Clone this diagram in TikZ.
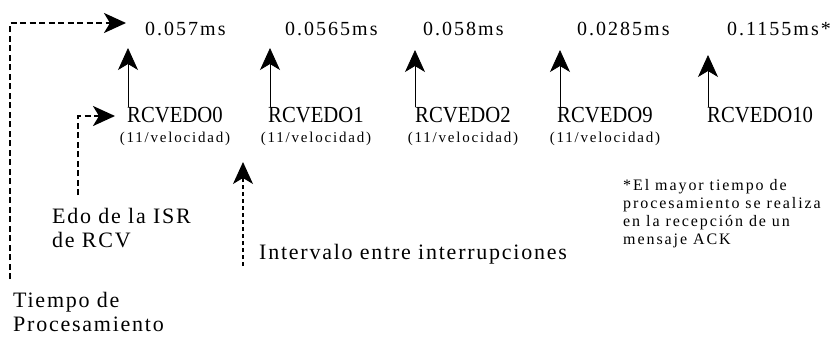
\documentclass[tikz,border=0pt]{standalone}
\usepackage{fontspec}
\setmainfont{Liberation Serif}
\newfontfamily\lsNum[LetterSpace=10]{Liberation Serif}
\newfontfamily\lsRcv[FakeStretch=0.9]{Liberation Serif}
\newfontfamily\lsVel[LetterSpace=12]{Liberation Serif}
\newfontfamily\lsLbl[LetterSpace=8]{Liberation Serif}
\newfontfamily\lsNote[LetterSpace=12]{Liberation Serif}
\usetikzlibrary{arrows.meta}
\begin{document}
\begin{tikzpicture}[x=1pt,y=1pt,
  num/.style={inner sep=0pt, anchor=base west, font=\lsNum\fontsize{20}{22}\selectfont},
  rcv/.style={inner sep=0pt, anchor=base west, font=\lsRcv\fontsize{23}{26}\selectfont},
  vel/.style={inner sep=0pt, anchor=base, font=\lsVel\fontsize{15}{17}\selectfont},
  lbl/.style={inner sep=0pt, anchor=base west, align=left, font=\lsLbl\fontsize{22}{24}\selectfont},
  note/.style={inner sep=0pt, anchor=base west, align=left, font=\lsNote\fontsize{16}{18}\selectfont},
  head/.style={-{Stealth[length=22pt,width=20pt,inset=6pt]}},
  uparrow/.style={head, line width=0.8pt},
  dashline/.style={line width=2.4pt, dash pattern=on 6pt off 3.5pt},
]
\useasboundingbox (0,0) rectangle (836,-340);
% top values
\node[num] (t1) at (145,-35) {0.057ms};
\node[num] (t2) at (285,-35) {0.0565ms};
\node[num] (t3) at (423,-35) {0.058ms};
\node[num] (t4) at (577,-35) {0.0285ms};
\node[num] (t5) at (727,-35) {0.1155ms*};
% states
\node[rcv] (r0) at (127,-122) {RCVEDO0};
\node[rcv] (r1) at (268,-122) {RCVEDO1};
\node[rcv] (r2) at (415,-122) {RCVEDO2};
\node[rcv] (r9) at (557,-122) {RCVEDO9};
\node[rcv] (r10) at (707,-122) {RCVEDO10};
\node[vel] (v0) at ([yshift=-20pt]r0.base) {(11/velocidad)};
\node[vel] (v1) at ([yshift=-20pt]r1.base) {(11/velocidad)};
\node[vel] (v2) at ([yshift=-20pt]r2.base) {(11/velocidad)};
\node[vel] (v9) at ([yshift=-20pt]r9.base) {(11/velocidad)};
% up arrows
\coordinate (a0) at (128,-48);
\coordinate (a1) at (270,-48);
\coordinate (a2) at (415,-50);
\coordinate (a9) at (560,-50);
\coordinate (a10) at (708,-55);
\draw[uparrow] (r0.north west -| a0) -- (a0);
\draw[uparrow] (r1.north west -| a1) -- (a1);
\draw[uparrow] (r2.north west -| a2) -- (a2);
\draw[uparrow] (r9.north west -| a9) -- (a9);
\draw[uparrow] (r10.north west -| a10) -- (a10);
% labels (base anchor = baseline of the last line)
\node[lbl] (edo) at (52,-247) {Edo de la ISR\\de RCV};
\node[lbl] (int) at (259,-259) {Intervalo entre interrupciones};
\node[lbl] (tiempo) at (13,-331) {Tiempo de\\Procesamiento};
\node[note] (nota) at (623,-244) {*El mayor tiempo de\\procesamiento se realiza\\en la recepción de un\\mensaje ACK};
% dashed connectors
\coordinate (tb) at (10,-279);
\coordinate (tt) at (126,-23);
\draw[dashline, head] (tb) |- (tt);
\coordinate (eb) at (78,-195);
\coordinate (et) at (115,-116);
\draw[dashline, head] (eb) |- (et);
\coordinate (ib) at (243,-266);
\coordinate (it) at (243,-162);
\draw[line width=1.4pt, dash pattern=on 4pt off 3pt, head] (ib) -- (it);
\end{tikzpicture}
\end{document}
